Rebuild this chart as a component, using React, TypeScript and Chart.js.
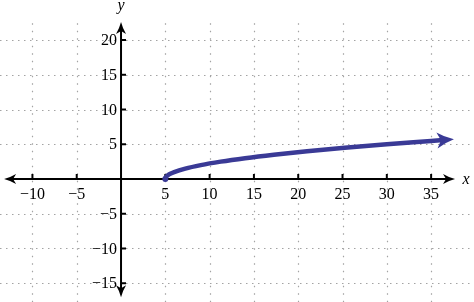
import React, { useEffect, useRef } from "react";
import { Chart, registerables } from "chart.js";

Chart.register(...registerables);

// Data
const curveX = [5, 5.06, 5.25, 5.56, 6, 7.25, 9, 11.25, 14, 17.25, 21, 25.25, 30, 33, 36];
const curveY = [0, 0.25, 0.5, 0.75, 1, 1.5, 2, 2.5, 3, 3.5, 4, 4.5, 5, 5.29, 5.57];
const xTicks = [-10, -5, 5, 10, 15, 20, 25, 30, 35];
const yTicks = [-15, -10, -5, 5, 10, 15, 20];
const xRange = [-13.66, 39.84];
const yRange = [-17.7, 25.76];
const xAxisExtent = [-13.2, 37.7];
const yAxisExtent = [-17.0, 22.6];

const SERIF = '"Liberation Serif", "Times New Roman", serif';

function drawArrow(ctx: CanvasRenderingContext2D, x: number, y: number, angle: number, len: number, half: number, notch: number, color: string) {
  ctx.save();
  ctx.translate(x, y);
  ctx.rotate(angle);
  ctx.beginPath();
  ctx.moveTo(0, 0);
  ctx.quadraticCurveTo(-len * 0.55, -half * 0.35, -len, -half);
  ctx.lineTo(-len + notch, 0);
  ctx.lineTo(-len, half);
  ctx.quadraticCurveTo(-len * 0.55, half * 0.35, 0, 0);
  ctx.closePath();
  ctx.fillStyle = color;
  ctx.fill();
  ctx.restore();
}

const axesPlugin = {
  id: "customAxes",
  beforeDatasetsDraw(chart: any) {
    const ctx: CanvasRenderingContext2D = chart.ctx;
    const xs = chart.scales.x;
    const ys = chart.scales.y;
    const x0 = xs.getPixelForValue(0);
    const y0 = ys.getPixelForValue(0);
    const left = xs.getPixelForValue(xRange[0]);
    const right = xs.getPixelForValue(xRange[1]);
    const top = ys.getPixelForValue(yAxisExtent[1] - 0.2);
    const bottom = ys.getPixelForValue(yRange[0]);

    ctx.save();
    // grid
    ctx.strokeStyle = "#a3a3a3";
    ctx.lineWidth = 1.2;
    ctx.setLineDash([1.5, 4.5]);
    for (const v of yTicks) {
      const py = Math.round(ys.getPixelForValue(v)) + 0.5;
      ctx.beginPath();
      ctx.moveTo(left, py);
      ctx.lineTo(right, py);
      ctx.stroke();
    }
    ctx.setLineDash([1.5, 6]);
    for (const v of xTicks) {
      const px = Math.round(xs.getPixelForValue(v)) + 0.5;
      ctx.beginPath();
      ctx.moveTo(px, top);
      ctx.lineTo(px, bottom);
      ctx.stroke();
    }
    ctx.setLineDash([]);

    // axes
    ctx.strokeStyle = "#000";
    ctx.lineWidth = 2;
    const axL = xs.getPixelForValue(xAxisExtent[0]);
    const axR = xs.getPixelForValue(xAxisExtent[1]);
    const ayT = ys.getPixelForValue(yAxisExtent[1]);
    const ayB = ys.getPixelForValue(yAxisExtent[0]);
    ctx.beginPath();
    ctx.moveTo(axL + 6, y0);
    ctx.lineTo(axR - 6, y0);
    ctx.stroke();
    ctx.beginPath();
    ctx.moveTo(x0, ayT + 6);
    ctx.lineTo(x0, ayB - 6);
    ctx.stroke();
    drawArrow(ctx, axL, y0, Math.PI, 12, 5, 3, "#000");
    drawArrow(ctx, axR, y0, 0, 12, 5, 3, "#000");
    drawArrow(ctx, x0, ayT, -Math.PI / 2, 12, 5, 3, "#000");
    drawArrow(ctx, x0, ayB, Math.PI / 2, 12, 5, 3, "#000");

    // ticks
    ctx.lineWidth = 2;
    for (const v of xTicks) {
      const px = xs.getPixelForValue(v);
      ctx.beginPath();
      ctx.moveTo(px, y0);
      ctx.lineTo(px, y0 - 5);
      ctx.stroke();
    }
    for (const v of yTicks) {
      const py = ys.getPixelForValue(v);
      ctx.beginPath();
      ctx.moveTo(x0, py);
      ctx.lineTo(x0 + 5, py);
      ctx.stroke();
    }

    // labels
    ctx.fillStyle = "#000";
    ctx.font = `16px ${SERIF}`;
    ctx.textAlign = "center";
    ctx.textBaseline = "top";
    for (const v of xTicks) {
      const px = xs.getPixelForValue(v);
      const t = v < 0 ? "\u2212" + Math.abs(v) : String(v);
      ctx.fillText(t, px, y0 + 8);
    }
    ctx.textAlign = "right";
    ctx.textBaseline = "middle";
    for (const v of yTicks) {
      const py = ys.getPixelForValue(v);
      const t = v < 0 ? "\u2212" + Math.abs(v) : String(v);
      ctx.fillText(t, x0 - 4, py + 1);
    }
    ctx.font = `italic 16px ${SERIF}`;
    ctx.textAlign = "center";
    ctx.fillText("x", axR + 11, y0 + 1);
    ctx.textBaseline = "middle";
    ctx.fillText("y", x0, ayT - 16);
    ctx.restore();
  },
  afterDatasetsDraw(chart: any) {
    const ctx: CanvasRenderingContext2D = chart.ctx;
    const xs = chart.scales.x;
    const ys = chart.scales.y;
    const n = curveX.length;
    const px1 = xs.getPixelForValue(curveX[n - 2]);
    const py1 = ys.getPixelForValue(curveY[n - 2]);
    const px2 = xs.getPixelForValue(curveX[n - 1]);
    const py2 = ys.getPixelForValue(curveY[n - 1]);
    const ang = Math.atan2(py2 - py1, px2 - px1);
    const len = 17;
    drawArrow(ctx, px2 + Math.cos(ang) * (len - 3), py2 + Math.sin(ang) * (len - 3), ang, len, 8, 4, "#3a3a96");
  },
};

export default function App() {
  const ref = useRef<HTMLCanvasElement | null>(null);
  useEffect(() => {
    document.body.style.margin = "0";
    const canvas = ref.current!;
    const chart = new Chart(canvas, {
      type: "line",
      data: {
        datasets: [
          {
            data: curveX.map((x, i) => ({ x, y: curveY[i] })),
            borderColor: "#3a3a96",
            backgroundColor: "#3a3a96",
            borderWidth: 4.5,
            borderCapStyle: "round",
            cubicInterpolationMode: "monotone",
            pointRadius: (c: any) => (c.dataIndex === 0 ? 3 : 0),
            pointBorderWidth: 0,
            fill: false,
          },
        ],
      },
      options: {
        responsive: false,
        animation: false,
        devicePixelRatio: 1,
        layout: { padding: 0, autoPadding: false },
        plugins: { legend: { display: false }, tooltip: { enabled: false } },
        scales: {
          x: { type: "linear", min: xRange[0], max: xRange[1], display: false },
          y: { type: "linear", min: yRange[0], max: yRange[1], display: false },
        },
      } as any,
      plugins: [axesPlugin],
    });
    return () => chart.destroy();
  }, []);
  return <canvas ref={ref} width={474} height={302} style={{ display: "block", width: 474, height: 302 }} />;
}
